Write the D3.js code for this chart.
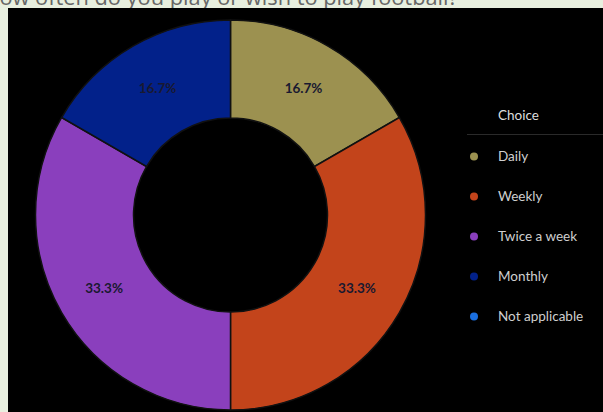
<!DOCTYPE html>
<html>
<head>
<meta charset="utf-8">
<script src="https://cdn.jsdelivr.net/npm/d3@7"></script>
<style>
  html, body { margin: 0; padding: 0; background: #e8efdf; overflow: hidden; }
  svg { display: block; }
</style>
</head>
<body>
<svg id="chart" width="603" height="412"></svg>
<script>
// Survey answers: how often respondents play (or wish to play) football
const title = "How often do you play or wish to play football?";
const legendTitle = "Choice";
const categories = ["Daily", "Weekly", "Twice a week", "Monthly", "Not applicable"];
const counts = [1, 2, 2, 1, 0];
const colors = ["#9c9150", "#c3441b", "#8a3fbd", "#02218a", "#1a6fe0"];

const W = 603, H = 412;
const svg = d3.select("#chart");

// page title (scrolled mostly above the visible area)
svg.append("text")
  .attr("x", 458).attr("y", 5)
  .attr("text-anchor", "end")
  .attr("font-family", "'Open Sans', sans-serif")
  .attr("font-size", 21.8)
  .attr("fill", "#666")
  .text(title);

// dark chart panel
svg.append("rect")
  .attr("x", 8).attr("y", 8)
  .attr("width", W - 8).attr("height", H - 8)
  .attr("fill", "#000");

const cx = 230.5, cy = 215, outerR = 195, innerR = 97;

const data = categories.map((c, i) => ({ category: c, value: counts[i], color: colors[i] }));
const total = d3.sum(counts);

const pie = d3.pie().sort(null).value(d => d.value);
const arc = d3.arc().innerRadius(innerR).outerRadius(outerR);

const g = svg.append("g").attr("transform", `translate(${cx},${cy})`);
const arcs = pie(data).filter(d => d.data.value > 0);

g.selectAll("path")
  .data(arcs)
  .join("path")
  .attr("d", arc)
  .attr("fill", d => d.data.color)
  .attr("stroke", "#111")
  .attr("stroke-width", 1.5);

g.selectAll("text.pct")
  .data(arcs)
  .join("text")
  .attr("class", "pct")
  .attr("transform", d => `translate(${arc.centroid(d)})`)
  .attr("text-anchor", "middle")
  .attr("dy", "0.35em")
  .attr("font-family", "Lato, sans-serif")
  .attr("font-weight", "bold")
  .attr("font-size", 13.5)
  .attr("fill", "#191930")
  .text(d => (d.data.value / total * 100).toFixed(1) + "%");

// legend
const lg = svg.append("g");
lg.append("text")
  .attr("x", 498).attr("y", 120)
  .attr("font-family", "Lato, sans-serif")
  .attr("font-size", 13.5)
  .attr("fill", "#ddd")
  .text(legendTitle);
lg.append("line")
  .attr("x1", 467).attr("x2", W)
  .attr("y1", 134.5).attr("y2", 134.5)
  .attr("stroke", "#2a2a2a").attr("stroke-width", 1);

const ly = d3.scalePoint().domain(categories).range([156.5, 316.5]);
const items = lg.selectAll("g.item")
  .data(data)
  .join("g")
  .attr("class", "item")
  .attr("transform", d => `translate(0,${ly(d.category)})`);
items.append("circle")
  .attr("cx", 474).attr("cy", 0).attr("r", 4)
  .attr("fill", d => d.color);
items.append("text")
  .attr("x", 498).attr("y", 0)
  .attr("dy", "0.35em")
  .attr("font-family", "Lato, sans-serif")
  .attr("font-size", 13.5)
  .attr("fill", "#cfcfcf")
  .text(d => d.category);
</script>
</body>
</html>
